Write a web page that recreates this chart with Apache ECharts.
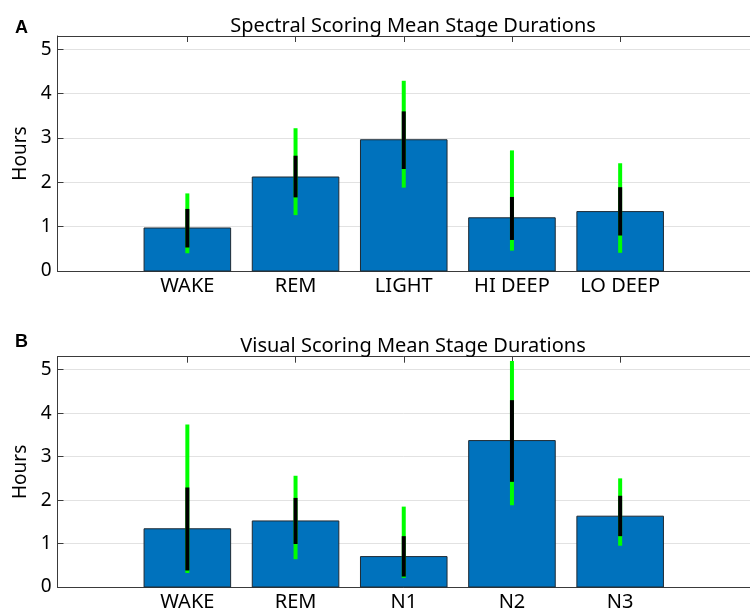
<!DOCTYPE html>
<html>
<head>
<meta charset="utf-8">
<script src="https://cdn.jsdelivr.net/npm/echarts@6/dist/echarts.min.js"></script>
<style>
html,body{margin:0;padding:0;background:#fff;}
#chart{width:750px;height:612px;}
</style>
</head>
<body>
<div id="chart"></div>
<script>
// ---- data ----
const positions = [1, 2, 3, 4, 5];

const categoriesA = ['WAKE', 'REM', 'LIGHT', 'HI DEEP', 'LO DEEP'];
const meanA = [0.97, 2.12, 2.96, 1.20, 1.34];
const greenLoA = [0.40, 1.26, 1.88, 0.46, 0.41];
const greenHiA = [1.75, 3.22, 4.29, 2.72, 2.43];
const blackLoA = [0.53, 1.66, 2.30, 0.70, 0.80];
const blackHiA = [1.40, 2.60, 3.60, 1.67, 1.89];

const categoriesB = ['WAKE', 'REM', 'N1', 'N2', 'N3'];
const meanB = [1.34, 1.52, 0.70, 3.37, 1.63];
const greenLoB = [0.32, 0.64, 0.21, 1.88, 0.95];
const greenHiB = [3.74, 2.56, 1.85, 5.20, 2.50];
const blackLoB = [0.38, 0.99, 0.24, 2.42, 1.17];
const blackHiB = [2.29, 2.05, 1.17, 4.30, 2.10];

const titleA = 'Spectral Scoring Mean Stage Durations';
const titleB = 'Visual Scoring Mean Stage Durations';

// ---- styling ----
const FONT = 'Noto Sans';
const AXIS_COLOR = '#3a3a3a';
const BAR_COLOR = '#0072BD';

const chart = echarts.init(document.getElementById('chart'), null, {renderer: 'canvas'});

function xAxes(gridIndex, cats) {
  const base = {
    type: 'value', gridIndex: gridIndex, min: -0.2, max: 6.2,
    splitLine: {show: false},
    axisLine: {show: true, onZero: false, lineStyle: {color: AXIS_COLOR, width: 1}},
    axisTick: {show: true, inside: true, length: 6, customValues: positions, lineStyle: {color: AXIS_COLOR}},
  };
  return [
    Object.assign({}, base, {
      position: 'bottom',
      axisLabel: {
        show: true, customValues: positions, margin: 5,
        fontFamily: FONT, fontSize: 20, color: '#000',
        formatter: v => cats[Math.round(v) - 1] || ''
      }
    }),
    Object.assign({}, base, {
      position: 'top',
      axisLabel: {show: false}
    })
  ];
}

function yAxis(gridIndex) {
  return {
    type: 'value', gridIndex: gridIndex, min: 0, max: 5.3, interval: 1,
    name: 'Hours', nameLocation: 'middle', nameGap: 23, nameRotate: 90,
    nameTextStyle: {fontFamily: FONT, fontSize: 19, color: '#000'},
    axisLine: {show: true, onZero: false, lineStyle: {color: AXIS_COLOR, width: 1}},
    axisTick: {show: true, inside: true, length: 6, lineStyle: {color: AXIS_COLOR}},
    axisLabel: {show: true, margin: 6, showMaxLabel: false, fontFamily: FONT, fontSize: 19, color: '#000'},
    splitLine: {show: true, lineStyle: {color: '#e2e2e2', width: 1}}
  };
}

function barSeries(xi, yi, means) {
  return {
    type: 'custom', xAxisIndex: xi, yAxisIndex: yi,
    data: positions.map((p, i) => [p, means[i]]),
    encode: {x: 0, y: 1},
    renderItem: function (params, api) {
      const x = api.value(0), v = api.value(1);
      const p0 = api.coord([x - 0.4, v]);
      const p1 = api.coord([x + 0.4, 0]);
      return {
        type: 'rect',
        shape: {x: p0[0], y: p0[1], width: p1[0] - p0[0], height: p1[1] - p0[1]},
        style: {fill: BAR_COLOR, stroke: '#1f2a33', lineWidth: 1}
      };
    },
    z: 2
  };
}

function errSeries(xi, yi, lo, hi, color, z) {
  return {
    type: 'custom', xAxisIndex: xi, yAxisIndex: yi,
    data: positions.map((p, i) => [p, lo[i], hi[i]]),
    encode: {x: 0, y: [1, 2]},
    renderItem: function (params, api) {
      const x = api.value(0);
      const a = api.coord([x, api.value(1)]);
      const b = api.coord([x, api.value(2)]);
      return {
        type: 'line',
        shape: {x1: a[0], y1: a[1], x2: b[0], y2: b[1]},
        style: {stroke: color, lineWidth: 4}
      };
    },
    z: z
  };
}

const option = {
  animation: false,
  backgroundColor: '#fff',
  title: [
    {text: 'A', left: 10, top: 14, textStyle: {fontFamily: 'Liberation Sans', fontWeight: 'bold', fontSize: 18, color: '#000'}},
    {text: titleA, left: 408, top: 11, textAlign: 'center', textStyle: {fontFamily: FONT, fontWeight: 'normal', fontSize: 20, color: '#000'}},
    {text: 'B', left: 10, top: 328, textStyle: {fontFamily: 'Liberation Sans', fontWeight: 'bold', fontSize: 18, color: '#000'}},
    {text: titleB, left: 408, top: 331, textAlign: 'center', textStyle: {fontFamily: FONT, fontWeight: 'normal', fontSize: 20, color: '#000'}}
  ],
  grid: [
    {left: 57.5, right: -9, top: 36, bottom: 341, containLabel: false},
    {left: 57.5, right: -9, top: 356.7, bottom: 22, containLabel: false}
  ],
  xAxis: [].concat(xAxes(0, categoriesA), xAxes(1, categoriesB)),
  yAxis: [yAxis(0), yAxis(1)],
  series: [
    barSeries(0, 0, meanA),
    errSeries(0, 0, greenLoA, greenHiA, '#00ff00', 3),
    errSeries(0, 0, blackLoA, blackHiA, '#000000', 4),
    barSeries(2, 1, meanB),
    errSeries(2, 1, greenLoB, greenHiB, '#00ff00', 3),
    errSeries(2, 1, blackLoB, blackHiB, '#000000', 4)
  ]
};
chart.setOption(option);
</script>
</body>
</html>
